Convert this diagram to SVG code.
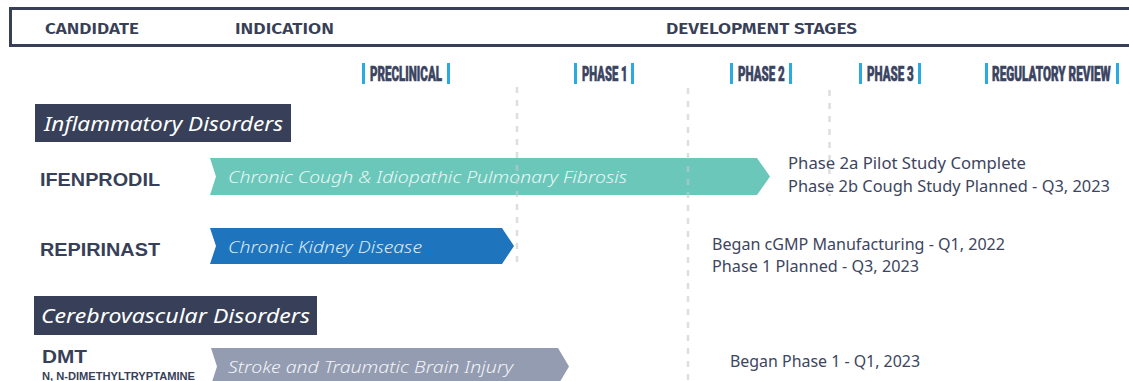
<svg xmlns="http://www.w3.org/2000/svg" width="1129" height="381" viewBox="0 0 1129 381">
<style>
.hdr{font-family:"Fira Sans","Open Sans","Noto Sans",sans-serif;font-weight:600;font-size:17px;fill:#383f56}
.stage{font-family:Roboto,"Liberation Sans",sans-serif;font-weight:900;font-size:20px;fill:#3b4461;stroke:#3b4461;stroke-width:0.6}
.bar{fill:#29abe2}
.cat{fill:#383f58}
.catt{font-family:"Noto Sans","Open Sans",sans-serif;font-style:italic;font-size:20px;fill:#ffffff}
.cand{font-family:"Liberation Sans",Arial,sans-serif;font-weight:700;font-size:19px;fill:#383f58}
.ind{font-family:"Noto Sans","Open Sans",sans-serif;font-style:italic;font-weight:300;font-size:17px}
.note{font-family:"Noto Sans","Open Sans",sans-serif;font-size:16px;fill:#3d4560}
.guide{stroke:#c8c8c8;stroke-opacity:0.6;stroke-width:2.5;stroke-dasharray:6 7;fill:none}
</style>

<g id="header">
<rect x="10.5" y="8.5" width="1140" height="37" fill="none" stroke="#383f56" stroke-width="3"/>
<text class="hdr" x="45" y="34" textLength="94" lengthAdjust="spacingAndGlyphs">CANDIDATE</text>
<text class="hdr" x="235" y="34" textLength="99" lengthAdjust="spacingAndGlyphs">INDICATION</text>
<text class="hdr" x="666" y="34" textLength="191" lengthAdjust="spacingAndGlyphs">DEVELOPMENT STAGES</text>
</g>

<g id="stages">
<rect class="bar" x="362" y="63" width="3" height="21"/>
<text class="stage" transform="translate(370,81) scale(0.6,1)" x="0" y="0" textLength="120" lengthAdjust="spacingAndGlyphs">PRECLINICAL</text>
<rect class="bar" x="447" y="63" width="3" height="21"/>

<rect class="bar" x="574" y="63" width="3" height="21"/>
<text class="stage" transform="translate(582,81) scale(0.6,1)" x="0" y="0" textLength="76" lengthAdjust="spacingAndGlyphs">PHASE 1</text>
<rect class="bar" x="631" y="63" width="3" height="21"/>

<rect class="bar" x="730" y="63" width="3" height="21"/>
<text class="stage" transform="translate(738,81) scale(0.6,1)" x="0" y="0" textLength="78" lengthAdjust="spacingAndGlyphs">PHASE 2</text>
<rect class="bar" x="789" y="63" width="3" height="21"/>

<rect class="bar" x="859" y="63" width="3" height="21"/>
<text class="stage" transform="translate(867,81) scale(0.6,1)" x="0" y="0" textLength="78" lengthAdjust="spacingAndGlyphs">PHASE 3</text>
<rect class="bar" x="918" y="63" width="3" height="21"/>

<rect class="bar" x="985" y="63" width="3" height="21"/>
<text class="stage" transform="translate(992,81) scale(0.6,1)" x="0" y="0" textLength="198" lengthAdjust="spacingAndGlyphs">REGULATORY REVIEW</text>
<rect class="bar" x="1116" y="63" width="3" height="21"/>
</g>

<g id="cat-inflammatory">
<rect class="cat" x="35" y="104" width="256" height="38"/>
<text class="catt" x="44" y="131" textLength="239" lengthAdjust="spacingAndGlyphs">Inflammatory Disorders</text>
</g>

<g id="ifenprodil">
<text class="cand" x="40" y="186" textLength="120" lengthAdjust="spacingAndGlyphs">IFENPRODIL</text>
<path d="M210,158 L757,158 L770,176.5 L757,195 L210,195 L216,176.5 Z" fill="#6cc7bb"/>
<text class="ind" x="228" y="183" fill="#e8f7f4" textLength="399" lengthAdjust="spacingAndGlyphs">Chronic Cough &amp; Idiopathic Pulmonary Fibrosis</text>
<text class="note" x="788" y="169" textLength="238" lengthAdjust="spacingAndGlyphs">Phase 2a Pilot Study Complete</text>
<text class="note" x="788" y="192" textLength="322" lengthAdjust="spacingAndGlyphs">Phase 2b Cough Study Planned - Q3, 2023</text>
</g>

<g id="repirinast">
<text class="cand" x="40" y="256" textLength="120" lengthAdjust="spacingAndGlyphs">REPIRINAST</text>
<path d="M210,228 L502,228 L514,246 L502,264 L210,264 L216,246 Z" fill="#1f75bd"/>
<text class="ind" x="228" y="253" fill="#dbeaf6" textLength="194" lengthAdjust="spacingAndGlyphs">Chronic Kidney Disease</text>
<text class="note" x="712" y="250" textLength="293" lengthAdjust="spacingAndGlyphs">Began cGMP Manufacturing - Q1, 2022</text>
<text class="note" x="712" y="272" textLength="207" lengthAdjust="spacingAndGlyphs">Phase 1 Planned - Q3, 2023</text>
</g>

<g id="cat-cerebrovascular">
<rect class="cat" x="34" y="296" width="283" height="39"/>
<text class="catt" x="41" y="323" textLength="269" lengthAdjust="spacingAndGlyphs">Cerebrovascular Disorders</text>
</g>

<g id="dmt">
<text class="cand" x="42" y="363" textLength="45" lengthAdjust="spacingAndGlyphs">DMT</text>
<text class="cand" x="42" y="379.5" style="font-size:10px" textLength="153" lengthAdjust="spacingAndGlyphs">N, N-DIMETHYLTRYPTAMINE</text>
<path d="M211,348 L558,348 L569,366.5 L558,385 L211,385 L217,366.5 Z" fill="#939cb1"/>
<text class="ind" x="228" y="373" fill="#f2f3f6" textLength="285" lengthAdjust="spacingAndGlyphs">Stroke and Traumatic Brain Injury</text>
<text class="note" x="730" y="367" textLength="190" lengthAdjust="spacingAndGlyphs">Began Phase 1 - Q1, 2023</text>
</g>

<g id="connectors">
<line class="guide" x1="517" y1="87" x2="517" y2="266"/>
<line class="guide" x1="688" y1="88" x2="688" y2="381"/>
<line class="guide" x1="829.5" y1="90" x2="829.5" y2="196"/>
</g>
</svg>
